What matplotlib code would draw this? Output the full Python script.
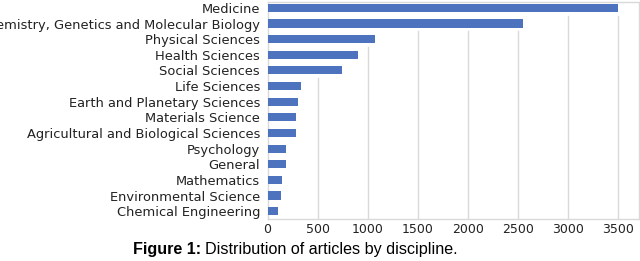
import matplotlib
matplotlib.use("Agg")
import matplotlib.pyplot as plt
import numpy as np

categories = [
    "Medicine",
    "Biochemistry, Genetics and Molecular Biology",
    "Physical Sciences",
    "Health Sciences",
    "Social Sciences",
    "Life Sciences",
    "Earth and Planetary Sciences",
    "Materials Science",
    "Agricultural and Biological Sciences",
    "Psychology",
    "General",
    "Mathematics",
    "Environmental Science",
    "Chemical Engineering",
]
values = [3505, 2550, 1075, 905, 745, 335, 305, 280, 280, 185, 180, 145, 130, 100]
xticks = [0, 500, 1000, 1500, 2000, 2500, 3000, 3500]

# plot from bottom up
cats = categories[::-1]
vals = values[::-1]
ypos = np.arange(len(cats))

fig = plt.figure(figsize=(6.4, 2.61), dpi=100)
ax = fig.add_axes([0.418, 0.161, 0.580, 0.831])

grid_color = "#d9d9d9"
bar_h = 0.52
ax.barh(ypos, vals, height=bar_h, color="#4e73be", zorder=3)

ylo, yhi = -0.5, len(cats) - 0.63
# gridlines: visible from bottom up to just below the lowest bar crossing them
for t in xticks[1:]:
    crossing = [i for i, v in enumerate(vals) if v > t]
    top = (min(crossing) - 0.5) if crossing else yhi
    ax.plot([t, t], [ylo, top], color=grid_color, lw=1.0, zorder=1)

ax.set_ylim(ylo, yhi)
ax.set_xlim(0, 3710)
ax.set_yticks(ypos)
ax.set_yticklabels(cats, fontsize=9.4, color="#222222")
ax.set_xticks(xticks)
ax.set_xticklabels([str(t) for t in xticks], fontsize=9.0, color="#222222")
ax.tick_params(axis="y", length=0, pad=5.5)
ax.tick_params(axis="x", length=0, pad=3)
for s in ax.spines.values():
    s.set_color(grid_color)
    s.set_linewidth(1.0)

cap = fig.text(0.208, 0.027, "Figure 1:", fontsize=11.6, fontweight="bold",
               family="Liberation Sans", ha="left", va="baseline")
fig.canvas.draw()
bb = cap.get_window_extent()
fig.text(bb.x1 / fig.bbox.width + 0.006, 0.027, "Distribution of articles by discipline.",
         fontsize=11.6, family="Liberation Sans", ha="left", va="baseline")

fig.savefig("out.png", dpi=100)
